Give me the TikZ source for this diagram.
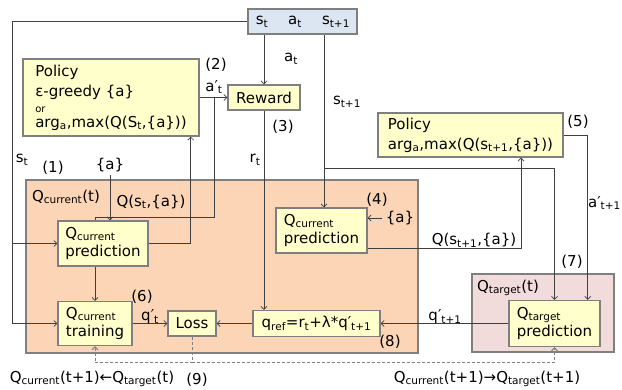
\documentclass[tikz,border=0pt]{standalone}
\usepackage{fontspec}
\setmainfont{DejaVu Sans}
\usetikzlibrary{calc, positioning, arrows.meta}
\definecolor{boxYellow}{HTML}{FFFFCC}
\definecolor{boxBlue}{HTML}{DCE6F2}
\definecolor{boxPeach}{HTML}{FBD5B5}
\definecolor{boxPink}{HTML}{F2DCDB}
\definecolor{boxEdge}{HTML}{7F7F7F}
\definecolor{wireGray}{HTML}{3F3F3F}
\newcommand{\tsub}[1]{\textsubscript{#1}}
\newcommand{\qcur}{Q\tsub{current}}
\newcommand{\qtgt}{Q\tsub{target}}
\pgfdeclarelayer{back}
\pgfdeclarelayer{wires}
\pgfsetlayers{back,wires,main}

\begin{document}
\begin{tikzpicture}[x=1pt, y=-1pt, font=\fontsize{15}{18}\selectfont,
	blk/.style={draw=boxEdge, line width=1.3pt, fill=boxYellow, inner sep=0pt, align=left},
	area/.style={draw=boxEdge, line width=1.3pt, inner sep=0pt},
	wire/.style={draw=wireGray, line width=0.7pt},
	swap/.style={draw=gray, line width=1pt, dash pattern=on 3pt off 2pt},
	>={Straight Barb[length=3pt,width=6pt]}]
		\useasboundingbox (0,0) rectangle (622,389);
		%-------------------------------------------------------------------------------
		% DQN update
		%-------------------------------------------------------------------------------
		% outer boxes
		\begin{pgfonlayer}{back}
		\node[area, fill=boxPeach, minimum width=392, minimum height=173] (qcurbox) 
			at (222,266.5) {};
		\node[area, fill=boxPink, minimum width=142, minimum height=78] (qtgtbox) 
			at (543,313) {};
		\end{pgfonlayer}
		
		% core nodes
		\node[blk, fill=boxBlue, minimum width=109, minimum height=25] (state) 
			at (302.5,21.5) {};
		\node (st) at (262,22) {s\tsub{t}};
		\node (at) at (295,22) {a\tsub{t}};
		\node (st1) at (336,22) {s\tsub{t+1}};
		\node[blk, minimum width=176, minimum height=77, font=\fontsize{15}{20}\selectfont] (pol) 
			at (111,97.5) {Policy\\ε-greedy \{a\}\\[-4pt]{\fontsize{10}{10}\selectfont or}\\[-5pt]arg\tsub{a},max(Q(S\tsub{t},\{a\}))};
		\node[blk, minimum width=72, minimum height=25] (rew) 
			at (264,97.5) {Reward};
		\node[blk, minimum width=185, minimum height=44, font=\fontsize{15}{20}\selectfont] (polR) 
			at (470.5,135) {Policy\\arg\tsub{a},max(Q(s\tsub{t+1},\{a\}))};
		\node[blk, minimum width=90, minimum height=45] (predL) 
			at (103,243.5) {\qcur\\prediction};
		\node[blk, minimum width=74, minimum height=44] (train) 
			at (95,323.5) {\qcur\\training};
		\node[blk, minimum width=48, minimum height=25] (loss) 
			at (192,323.5) {Loss};
		\node[blk, minimum width=127, minimum height=26] (qref) 
			at (316.5,323.5) {q\tsub{ref}=r\tsub{t}+λ*q′\tsub{t+1}};
		\node[blk, minimum width=91, minimum height=45] (predR) 
			at (321.5,230.5) {\qcur\\prediction};
		\node[blk, minimum width=91, minimum height=46] (tpred) 
			at (554.5,323.5) {\qtgt\\prediction};
		\node (aL) at (110,165) {\{a\}};
		\node (aR) at (400,218) {\{a\}};
		
		% wires
		\begin{pgfonlayer}{wires}
		\coordinate (cl) at (12,0);
		\coordinate (ja) at (214,97.5);
		\coordinate (cs) at (324,0);
		\coordinate (js) at (324,168);
		\coordinate (jb) at (521,168);
		\coordinate (jd) at ($(loss.south)+(0,26)$);
		\draw[wire,->] (state.west) -| (cl |- train.west) -- (train.west);
		\draw[wire,->] (cl |- predL.west) -- (predL.west);
		\draw[wire,->] (rew.north |- state.south) -- (rew.north);
		\draw[wire,->] (pol.east) -- (rew.west);
		\draw[wire,->] (ja) -- ++(0,120) -| (train.north);
		\draw[wire,->] (predL.east) -| ($(pol.south east)+(-9,0)$);
		\draw[wire,->] (aL) -- (aL |- predL.north);
		\draw[wire,->] (rew.south) -- (rew.south |- qref.north);
		\draw[wire,->] (cs |- state.south) -- (cs |- predR.north);
		\draw[wire,->] (js) -| (tpred.north);
		\draw[wire,->] (aR) -- (aR -| predR.east);
		\draw[wire,->] ($(predR.south east)+(0,-5)$) -| (jb |- polR.south);
		\draw[wire,->] (polR.east) -| ($(tpred.north east)+(-13,0)$);
		\draw[wire,->] (tpred.west) -- (qref.east);
		\draw[wire,->] (qref.west) -- (loss.east);
		\draw[wire,->] (train.east) -- (loss.west);
		\draw[swap,->] (loss.south) -- (jd) -| (train.south);
		\draw[swap,->] (jd) -| (tpred.south);
		\end{pgfonlayer}
		
		% labels
		\node (lat) at (291,59) {a\tsub{t}};
		\node (n2) at (216,65) {(2)};
		\node (lapt) at (214,87) {a′\tsub{t}};
		\node (n3) at (283,127) {(3)};
		\node (lrt) at (255,160) {r\tsub{t}};
		\node (lst1) at (347,102) {s\tsub{t+1}};
		\node (lst) at (22,160) {s\tsub{t}};
		\node (n1) at (53,168) {(1)};
		\node (lqc) at (66,197) {\qcur(t)};
		\node (lqs) at (151,202) {Q(s\tsub{t},\{a\})};
		\node (n4) at (377,200) {(4)};
		\node (lqs1) at (474,240) {Q(s\tsub{t+1},\{a\})};
		\node (n5) at (578,122) {(5)};
		\node[anchor=east, inner sep=0pt] (lapt1) at (621,203) {a′\tsub{t+1}};
		\node (n7) at (572,262) {(7)};
		\node (lqt) at (508,288) {\qtgt(t)};
		\node (lqp1) at (445,317) {q′\tsub{t+1}};
		\node (n8) at (390,342) {(8)};
		\node (n6) at (142,297) {(6)};
		\node (lqp) at (150,317) {q′\tsub{t}};
		\node (swapL) at (92,379) {\qcur(t+1)←\qtgt(t)};
		\node (n9) at (197,380) {(9)};
		\node (swapR) at (487,379) {\qcur(t+1)→\qtgt(t+1)};
\end{tikzpicture}
\end{document}
